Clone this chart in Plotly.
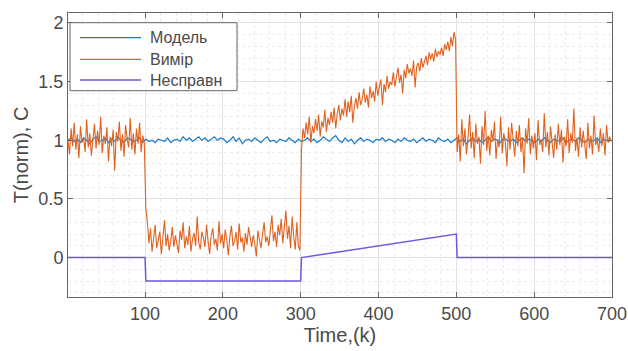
import plotly.graph_objects as go

# ---------------- data ----------------
meas_t = list(range(1, 700, 2))          # sample index of "Вимір"
meas_v = [
    # 1 .. 99
    1.00, 0.88, 1.10, 0.95, 1.15, 0.92, 1.05, 0.85, 1.12, 0.98,
    1.02, 0.90, 1.18, 0.94, 1.06, 0.87, 1.00, 1.14, 0.93, 1.08,
    0.96, 1.20, 0.89, 1.04, 0.97, 1.11, 0.82, 1.03, 0.95, 1.09,
    0.74, 1.07, 0.99, 1.16, 0.91, 1.05, 0.86, 1.13, 1.01, 0.94,
    1.19, 0.92, 1.06, 0.88, 1.10, 0.97, 1.15, 0.90, 1.04, 0.98,
    # 101 .. 299
    0.42, 0.30, 0.12, 0.25, 0.05, 0.18, 0.28, 0.08, 0.15, 0.22,
    0.03, 0.17, 0.32, 0.10, 0.20, 0.06, 0.14, 0.26, 0.09, 0.19,
    0.12, 0.04, 0.23, 0.15, 0.30, 0.08, 0.18, 0.11, 0.27, 0.05,
    0.16, 0.21, 0.10, 0.35, 0.13, 0.07, 0.22, 0.17, 0.09, 0.28,
    0.14, 0.03, 0.19, 0.25, 0.11, 0.16, 0.06, 0.31, 0.12, 0.20,
    0.08, 0.24, 0.15, 0.02, 0.18, 0.27, 0.10, 0.14, 0.22, 0.07,
    0.29, 0.13, 0.17, 0.05, 0.21, 0.11, 0.26, 0.16, 0.09, 0.19,
    0.12, 0.01, 0.23, 0.15, 0.08, 0.20, 0.30, 0.13, 0.18, 0.10,
    0.25, 0.36, 0.14, 0.22, 0.09, 0.28, 0.19, 0.33, 0.12, 0.24,
    0.40, 0.16, 0.27, 0.08, 0.35, 0.18, 0.07, 0.30, 0.10, 0.06,
    # 301 .. 499
    0.92, 1.10, 1.02, 1.15, 1.05, 1.20, 0.98, 1.12, 1.06, 1.18,
    1.08, 1.22, 1.03, 1.16, 1.11, 1.26, 1.07, 1.19, 1.13, 1.24,
    1.15, 1.28, 1.10, 1.23, 1.30, 1.17, 1.27, 1.21, 1.35, 1.20,
    1.33, 1.24, 1.38, 1.15, 1.29, 1.36, 1.27, 1.41, 1.30, 1.35,
    1.44, 1.32, 1.39, 1.28, 1.46, 1.36, 1.42, 1.33, 1.50, 1.38,
    1.45, 1.52, 1.30, 1.48, 1.41, 1.55, 1.44, 1.50, 1.47, 1.58,
    1.46, 1.54, 1.62, 1.49, 1.56, 1.40, 1.60, 1.53, 1.65, 1.57,
    1.61, 1.55, 1.68, 1.45, 1.63, 1.66, 1.59, 1.70, 1.62, 1.67,
    1.72, 1.64, 1.75, 1.69, 1.74, 1.67, 1.78, 1.71, 1.76, 1.73,
    1.79, 1.72, 1.82, 1.77, 1.84, 1.76, 1.88, 1.80, 1.92, 1.86,
    # 501 .. 699
    0.90, 1.05, 0.82, 1.18, 0.95, 1.10, 0.88, 1.02, 1.22, 0.93,
    1.07, 0.85, 1.14, 0.97, 1.03, 0.80, 1.12, 0.96, 1.25, 0.91,
    1.04, 0.87, 1.09, 0.99, 1.16, 0.84, 1.01, 0.94, 1.20, 0.89,
    1.06, 0.98, 0.78, 1.11, 0.92, 1.15, 1.00, 0.86, 1.08, 0.95,
    1.13, 0.90, 1.02, 0.72, 1.10, 0.97, 1.19, 0.88, 1.04, 0.93,
    1.06, 0.83, 1.17, 0.96, 1.01, 0.90, 1.23, 0.94, 1.07, 0.87,
    1.12, 0.99, 0.85, 1.05, 0.92, 1.14, 0.96, 1.09, 0.81, 1.03,
    0.95, 1.18, 0.89, 1.06, 0.98, 1.27, 0.91, 1.02, 0.86, 1.11,
    0.94, 1.08, 0.97, 0.84, 1.15, 0.93, 1.04, 0.88, 1.21, 0.96,
    1.01, 0.90, 1.10, 0.95, 1.06, 0.87, 1.13, 0.98, 1.03, 0.99,
]

model_t = list(range(1, 700, 4))         # sample index of "Модель"
model_v = [
    1.00, 1.02, 0.99, 1.01, 0.98, 1.02, 1.00, 0.97, 1.01, 1.03, 0.99, 1.00, 1.02, 0.98, 1.01, 0.99, 1.03, 1.00, 0.98, 1.02, 1.01, 0.99, 1.00, 1.02, 0.98,
    1.01, 0.99, 1.00, 0.98, 1.01, 1.00, 0.99, 1.02, 0.98, 1.00, 1.01, 0.99, 1.03, 1.00, 1.02, 0.99, 1.01, 1.03, 1.00, 1.02, 0.99, 1.01, 1.03, 1.00, 1.02,
    1.01, 0.98, 1.00, 1.03, 0.99, 1.02, 0.97, 1.00, 1.01, 0.99, 1.02, 1.00, 0.98, 1.01, 1.03, 0.99, 1.00, 0.98, 1.01, 1.00, 0.99, 1.02, 1.00, 0.98, 1.01,
    0.99, 1.00, 1.02, 0.99, 1.01, 0.98, 1.00, 1.03, 1.01, 0.99, 1.02, 1.04, 1.00, 0.98, 1.02, 0.99, 1.01, 0.97, 1.00, 1.02, 0.99, 1.01, 1.00, 0.98, 1.01,
    1.00, 1.02, 0.99, 1.01, 1.00, 0.98, 1.01, 0.99, 1.02, 1.00, 0.99, 1.01, 0.98, 1.00, 1.02, 0.99, 1.01, 1.00, 0.98, 1.02, 1.00, 0.99, 1.01, 0.98, 1.00,
    1.02, 0.99, 1.01, 0.97, 1.00, 1.02, 0.99, 1.01, 0.98, 1.00, 1.03, 0.99, 1.01, 1.00, 0.98, 1.02, 1.00, 0.99, 1.01, 0.98, 1.00, 1.02, 0.99, 1.01, 1.00,
    0.98, 1.01, 0.99, 1.02, 1.00, 0.98, 1.01, 1.00, 0.99, 1.02, 0.98, 1.00, 1.01, 0.99, 1.02, 1.00, 0.98, 1.01, 0.99, 1.00, 1.02, 0.98, 1.01, 1.00, 0.99,
]

fault_t = [1, 100, 101, 300, 301, 500, 501, 700]
fault_v = [0.0, 0.0, -0.2, -0.2, 0.0, 0.2, 0.0, 0.0]

names = ["Модель", "Вимір", "Несправн"]
colors = ["#1A7CC4", "#E0621F", "#6A5AE0"]

x_ticks = [100, 200, 300, 400, 500, 600, 700]
y_ticks = [0, 0.5, 1, 1.5, 2]

# ---------------- figure ----------------
W, H = 628, 351
L, R, T, B = 68, 16, 13, 54
pw, ph = W - L - R, H - T - B

fig = go.Figure()
fig.add_trace(go.Scatter(x=model_t, y=model_v, mode="lines", name=names[0],
                         line=dict(color=colors[0], width=1.2)))
fig.add_trace(go.Scatter(x=meas_t, y=meas_v, mode="lines", name=names[1],
                         line=dict(color=colors[1], width=1.1)))
fig.add_trace(go.Scatter(x=fault_t, y=fault_v, mode="lines", name=names[2],
                         line=dict(color=colors[2], width=1.5)))

tick_font = dict(family="Liberation Sans, Arial, sans-serif", size=18, color="#4a4a4a")
title_font = dict(family="Liberation Sans, Arial, sans-serif", size=20, color="#4a4a4a")

axis_common = dict(
    showline=True, linecolor="#666666", linewidth=1, mirror="ticks",
    ticks="inside", ticklen=5, tickcolor="#666666",
    showgrid=True, gridcolor="#e2e2e2", gridwidth=1,
    zeroline=False, tickfont=tick_font, automargin=False,
)

fig.update_xaxes(range=[1, 700], tickvals=x_ticks,
                 minor=dict(dtick=20, showgrid=True, gridcolor="#ececec", griddash="dot", ticks=""),
                 title=dict(text="Time,(k)", font=title_font, standoff=3),
                 **axis_common)
fig.update_yaxes(range=[-0.336, 2.085], tickvals=y_ticks,
                 minor=dict(dtick=0.1, showgrid=True, gridcolor="#ececec", griddash="dot", ticks=""),
                 title=dict(text="T(norm), C", font=title_font, standoff=4),
                 **axis_common)

# ---------------- legend (drawn as in the reference: long samples) ----------------
def px_x(px):
    return (px - L) / pw

def px_y(py):
    return (H - B - py) / ph

shapes = [dict(type="rect", xref="paper", yref="paper",
               x0=px_x(70), x1=px_x(237), y0=px_y(90.7), y1=px_y(22.7),
               line=dict(color="#666666", width=1), fillcolor="white", layer="above")]
annotations = []
rows = [37.7, 59.3, 80.0]
for nm, col, ry in zip(names, colors, rows):
    shapes.append(dict(type="line", xref="paper", yref="paper",
                       x0=px_x(80), x1=px_x(141), y0=px_y(ry), y1=px_y(ry),
                       line=dict(color=col, width=1.5 if nm == names[2] else 1.2),
                       layer="above"))
    annotations.append(dict(xref="paper", yref="paper", x=px_x(148), y=px_y(ry),
                            text=nm, showarrow=False, xanchor="left", yanchor="middle",
                            font=dict(family="Liberation Sans, Arial, sans-serif",
                                      size=16, color="#4a4a4a")))

fig.update_layout(
    width=W, height=H,
    margin=dict(l=L, r=R, t=T, b=B, autoexpand=False),
    paper_bgcolor="white", plot_bgcolor="white",
    showlegend=False,
    shapes=shapes, annotations=annotations,
)

fig.write_html("out.html",
               config={"displayModeBar": False},
               post_script="document.body.style.margin='0';document.body.style.overflow='hidden';")
